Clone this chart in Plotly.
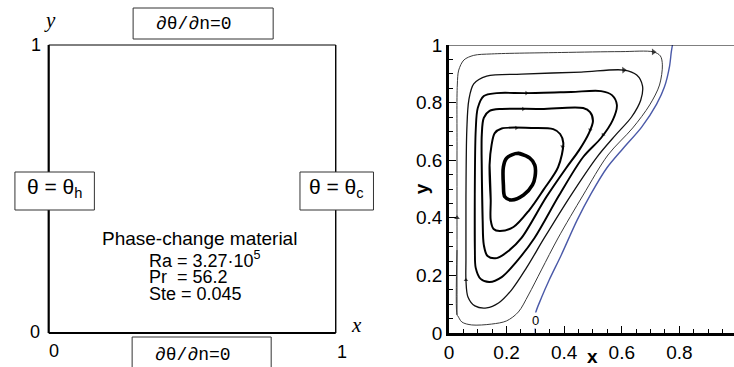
import plotly.graph_objects as go

# ---------------------------------------------------------------
# Streamlines of the melt flow (right panel), dimensionless x, y
# ---------------------------------------------------------------
outer_x = [0.028, 0.028, 0.028, 0.029, 0.034, 0.052, 0.086, 0.148, 0.390, 0.597, 0.710,
           0.734, 0.741, 0.731, 0.697, 0.638, 0.552, 0.466, 0.379, 0.321, 0.276, 0.241,
           0.200, 0.148, 0.079, 0.045, 0.031]
outer_y = [0.063, 0.288, 0.635, 0.861, 0.913, 0.948, 0.964, 0.969, 0.974, 0.977, 0.976,
           0.962, 0.931, 0.861, 0.792, 0.712, 0.618, 0.479, 0.330, 0.219, 0.132, 0.073,
           0.042, 0.031, 0.028, 0.038, 0.059]

c2_x = [0.059, 0.059, 0.062, 0.069, 0.086, 0.131, 0.252, 0.459, 0.607, 0.652, 0.672, 0.666,
        0.634, 0.579, 0.514, 0.424, 0.331, 0.269, 0.217, 0.172, 0.131, 0.090, 0.066, 0.059]
c2_y = [0.253, 0.462, 0.705, 0.809, 0.865, 0.892, 0.899, 0.906, 0.913, 0.896, 0.858, 0.809,
        0.750, 0.688, 0.611, 0.479, 0.330, 0.226, 0.149, 0.104, 0.087, 0.094, 0.125, 0.184]

c3_x = [0.090, 0.090, 0.093, 0.100, 0.121, 0.166, 0.269, 0.424, 0.528, 0.566, 0.583, 0.569,
        0.528, 0.466, 0.383, 0.297, 0.234, 0.183, 0.141, 0.110, 0.093]
c3_y = [0.288, 0.531, 0.705, 0.781, 0.823, 0.833, 0.833, 0.837, 0.840, 0.826, 0.792, 0.740,
        0.677, 0.611, 0.479, 0.330, 0.247, 0.194, 0.177, 0.188, 0.226]

c4_x = [0.117, 0.114, 0.114, 0.121, 0.141, 0.183, 0.321, 0.466, 0.490, 0.500, 0.486, 0.452,
        0.407, 0.338, 0.252, 0.207, 0.166, 0.134, 0.121]
c4_y = [0.392, 0.566, 0.688, 0.747, 0.771, 0.778, 0.778, 0.781, 0.767, 0.736, 0.694, 0.635,
        0.573, 0.472, 0.330, 0.285, 0.260, 0.267, 0.306]

c5_x = [0.145, 0.141, 0.148, 0.159, 0.183, 0.286, 0.362, 0.386, 0.397, 0.379, 0.328, 0.279,
        0.224, 0.176, 0.155, 0.145]
c5_y = [0.462, 0.583, 0.653, 0.694, 0.710, 0.712, 0.708, 0.691, 0.660, 0.576, 0.497, 0.427,
        0.368, 0.354, 0.361, 0.392]

core_x = [0.240, 0.280, 0.298, 0.299, 0.290, 0.259, 0.217, 0.194, 0.189, 0.189, 0.200]
core_y = [0.624, 0.608, 0.583, 0.543, 0.514, 0.479, 0.462, 0.473, 0.514, 0.577, 0.607]

# Melting front (liquid fraction contour 0)
front_x = [0.300, 0.300, 0.321, 0.348, 0.390, 0.445, 0.493, 0.548, 0.603, 0.669, 0.721,
           0.748, 0.766, 0.772, 0.776]
front_y = [0.000, 0.066, 0.122, 0.184, 0.271, 0.392, 0.483, 0.573, 0.639, 0.715, 0.795,
           0.854, 0.927, 0.976, 1.000]

# Flow-direction arrowheads (position and heading, degrees clockwise from up)
arrow_x = [0.710, 0.607, 0.028, 0.059, 0.269, 0.258, 0.234, 0.535, 0.490, 0.394]
arrow_y = [0.976, 0.913, 0.400, 0.184, 0.833, 0.778, 0.712, 0.688, 0.705, 0.647]
arrow_angle = [90, 88, 0, 0, 90, 90, 90, 215, 200, 190]
arrow_size = [6, 6, 5, 4, 4, 4, 4, 4, 4, 4]

# Axis ticks
tick_vals = [0, 0.2, 0.4, 0.6, 0.8, 1]
tick_text = ["0", "0.2", "0.4", "0.6", "0.8", "1"]

# Material parameters shown in the sketch
param_lines = ["Ra = 3.27·10<sup>5</sup>", "Pr\u00a0 = 56.2", "Ste = 0.045"]

# ---------------------------------------------------------------
W, H = 734, 367
TOP, BOTTOM = 45, 333          # pixel rows of y = 1 and y = 0
AX_LEFT = 447                  # pixel column of x = 0 (right panel)
PX_PER_UNIT = 290.0
SANS = "Liberation Sans, Arial, sans-serif"
SERIF = "Liberation Serif, Times New Roman, serif"
MONO = "Liberation Mono, Courier New, monospace"


def px(xp):
    return xp / W


def py(yp):
    return (BOTTOM - yp) / (BOTTOM - TOP)


def closed(xs, ys):
    return list(xs) + [xs[0], xs[1]], list(ys) + [ys[0], ys[1]]


fig = go.Figure()

loops = [
    (outer_x, outer_y, 1.0, "#3a3a3a"),
    (c2_x, c2_y, 1.3, "#111111"),
    (c3_x, c3_y, 1.9, "black"),
    (c4_x, c4_y, 2.0, "black"),
    (c5_x, c5_y, 2.0, "black"),
    (core_x, core_y, 3.6, "black"),
]
for xs, ys, w, col in loops:
    cx, cy = closed(xs, ys)
    fig.add_trace(go.Scatter(x=cx, y=cy, mode="lines",
                             line=dict(color=col, width=w, shape="spline", smoothing=0.9),
                             hoverinfo="skip"))

fig.add_trace(go.Scatter(x=front_x, y=front_y, mode="lines",
                         line=dict(color="#4a59a8", width=1.4, shape="spline", smoothing=0.8),
                         hoverinfo="skip"))

fig.add_trace(go.Scatter(x=arrow_x, y=arrow_y, mode="markers",
                         marker=dict(symbol="triangle-up", size=arrow_size, angle=arrow_angle,
                                     color="black", line=dict(width=0)),
                         hoverinfo="skip"))

x_end = (W - AX_LEFT) / PX_PER_UNIT
axis_common = dict(showline=True, linewidth=2.5, linecolor="black", mirror=False,
                   ticks="inside", ticklen=7, tickwidth=1.4, tickcolor="black",
                   tickvals=tick_vals, ticktext=tick_text,
                   minor=dict(ticks="inside", ticklen=4, tickwidth=1, tickcolor="black",
                              dtick=0.05, tick0=0),
                   showgrid=False, zeroline=False,
                   tickfont=dict(family=SANS, size=19, color="black"))

fig.update_layout(
    width=W, height=H,
    margin=dict(l=0, r=0, t=TOP, b=H - BOTTOM),
    paper_bgcolor="white", plot_bgcolor="white",
    showlegend=False,
    xaxis=dict(domain=[px(AX_LEFT), 1], range=[0, x_end], ticklabelstandoff=0, **axis_common),
    yaxis=dict(domain=[0, 1], range=[0, 1], **axis_common),
)

shapes = []
# top boundary of the cavity (right panel)
shapes.append(dict(type="line", xref="x", yref="y", x0=0, x1=x_end, y0=1, y1=1,
                   line=dict(color="black", width=1.2)))

# ---------------- left panel: cavity sketch ----------------
L0, L1 = 44, 333
shapes += [
    dict(type="line", xref="paper", yref="paper", x0=px(L0), x1=px(L1), y0=py(TOP), y1=py(TOP),
         line=dict(color="black", width=1)),
    dict(type="line", xref="paper", yref="paper", x0=px(L1), x1=px(L1), y0=py(TOP), y1=py(BOTTOM),
         line=dict(color="black", width=1.4)),
    dict(type="line", xref="paper", yref="paper", x0=px(L0), x1=px(L0), y0=py(TOP), y1=py(BOTTOM),
         line=dict(color="black", width=2.2)),
    dict(type="line", xref="paper", yref="paper", x0=px(L0), x1=px(L1), y0=py(BOTTOM), y1=py(BOTTOM),
         line=dict(color="black", width=2.2)),
]
boxes = [(129, 8, 270, 39), (128, 337, 268, 385), (10, 172, 90, 210), (297, 172, 371, 210)]
for x0, y0, x1, y1 in boxes:
    shapes.append(dict(type="rect", xref="paper", yref="paper",
                       x0=px(x0), x1=px(x1), y0=py(y1), y1=py(y0),
                       fillcolor="white", line=dict(color="#333333", width=1)))
fig.update_layout(shapes=shapes)


def note(text, xp, yp, size=18, family=SANS, xanchor="center", **kw):
    fig.add_annotation(text=text, xref="paper", yref="paper", x=px(xp), y=py(yp),
                       xanchor=xanchor, yanchor="middle", showarrow=False,
                       font=dict(family=family, size=size, color="black"), **kw)


note("<i>y</i>", 45, 20, size=21, family=SERIF)
note("<i>x</i>", 354, 325, size=21, family=SERIF)
note("1", 31, 45)
note("0", 30, 332)
note("0", 49, 351)
note("1", 339, 352)
note("∂θ/∂n=0", 190, 24, size=18, family=MONO)
note("∂θ/∂n=0", 189, 355, size=18, family=MONO)
note("θ = θ<sub>h</sub>", 50, 188, size=21)
note("θ = θ<sub>c</sub>", 334, 188, size=21)
note("Phase-change material", 196, 238, size=19)
for line_text, yrow in zip(param_lines, [259, 277, 294]):
    note(line_text, 143, yrow, size=18, xanchor="left")

# ---------------- right panel labels ----------------
fig.add_annotation(text="0", x=front_x[0], y=0.045, xref="x", yref="y", showarrow=False,
                   font=dict(family=SANS, size=13, color="black"),
                   bgcolor="white", borderpad=0)
note("<b>x</b>", 592, 356, size=19)
note("<b>y</b>", 419, 189, size=19, textangle=-90)

fig.write_html("out.html")
